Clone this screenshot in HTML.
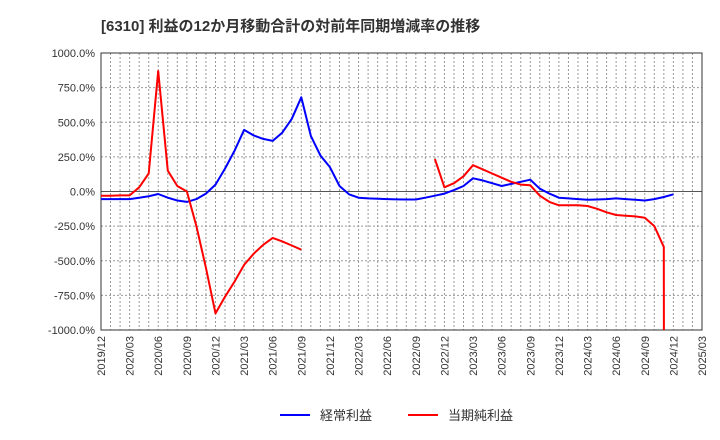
<!DOCTYPE html>
<html><head><meta charset="utf-8"><style>
html,body{margin:0;background:#fff;width:720px;height:440px;overflow:hidden;font-family:"Liberation Sans","Noto Sans CJK JP",sans-serif}
svg{display:block}
svg text{font-family:"Liberation Sans","Noto Sans CJK JP",sans-serif}
</style></head><body>
<svg id="c" width="720" height="440" xmlns="http://www.w3.org/2000/svg">
<text x="101" y="31" font-size="15" font-weight="bold" fill="#333">[6310]  利益の12か月移動合計の対前年同期増減率の推移</text>
<g id="grid"></g><g id="axes"></g>
<clipPath id="clip"><rect x="101" y="53" width="601" height="277"/></clipPath>
<g id="series" clip-path="url(#clip)"></g>
<g>
<line x1="280" y1="415" x2="310" y2="415" stroke="#0000ff" stroke-width="2"/>
<text x="320" y="420" font-size="13" fill="#333">経常利益</text>
<line x1="408" y1="415" x2="438" y2="415" stroke="#ff0000" stroke-width="2"/>
<text x="448" y="420" font-size="13" fill="#333">当期純利益</text>
</g>
</svg>
<script>
const yTicks=[1000,750,500,250,0,-250,-500,-750,-1000];
const yLabels=["1000.0%","750.0%","500.0%","250.0%","0.0%","-250.0%","-500.0%","-750.0%","-1000.0%"];
const xLabels=["2019/12","2020/03","2020/06","2020/09","2020/12","2021/03","2021/06","2021/09","2021/12","2022/03","2022/06","2022/09","2022/12","2023/03","2023/06","2023/09","2023/12","2024/03","2024/06","2024/09","2024/12","2025/03"];
const ordinary=[-55,-55,-55,-55,-45,-35,-18,-45,-65,-75,-55,-15,50,165,295,445,405,380,365,425,525,680,400,260,175,40,-20,-45,-50,-52,-55,-57,-58,-58,-45,-30,-15,10,40,95,80,60,40,55,70,85,20,-15,-45,-50,-55,-60,-58,-55,-50,-55,-60,-65,-55,-40,-20];
const net=[-30,-30,-28,-28,30,130,870,150,40,0,-250,-550,-880,-760,-650,-530,-450,-385,-335,-360,-390,-420,null,null,null,null,null,null,null,null,null,null,null,null,null,235,30,60,110,190,160,130,100,70,50,45,-30,-75,-100,-100,-100,-105,-125,-150,-170,-175,-180,-190,-250,-400,-60000];
const L=101,R=702,T=53,B=330,NM=63;
const sx=i=>L+i*(R-L)/NM, sy=v=>T+(1000-v)*(B-T)/2000;
const ns="http://www.w3.org/2000/svg";
function mk(t,a,p){const e=document.createElementNS(ns,t);for(const k in a)e.setAttribute(k,a[k]);p.appendChild(e);return e;}
const g=document.getElementById('grid'),ax=document.getElementById('axes'),s=document.getElementById('series');
for(let m=1;m<NM;m++){const l=mk('line',{x1:sx(m),x2:sx(m),y1:T,y2:B,stroke:'#999','stroke-dasharray':'2,2','stroke-width':1},g);

}
yTicks.forEach((v,i)=>{if(v!==1000&&v!==-1000){const l=mk('line',{x1:L,x2:R,y1:sy(v),y2:sy(v),stroke:v===0?'#555':'#999','stroke-dasharray':v===0?'':'2,2','stroke-width':1},g);

}
const t=mk('text',{x:95,y:sy(v)+4,'font-size':11,'text-anchor':'end',fill:'#333'},ax);t.textContent=yLabels[i];

});
xLabels.forEach((lb,i)=>{const x=sx(i*3);const t=mk('text',{x:0,y:0,'font-size':11,'text-anchor':'end',fill:'#333',transform:`translate(${x+4},336) rotate(-90)`},ax);t.textContent=lb;

});
const fr=mk('rect',{x:L,y:T,width:R-L,height:B-T,fill:'none',stroke:'#333','stroke-width':1},ax);


function draw(arr,col,name){let d='',pen=false;arr.forEach((v,i)=>{if(v===null){pen=false;return;}d+=(pen?'L':'M')+sx(i).toFixed(1)+','+sy(v).toFixed(1);pen=true;});
const p=mk('path',{d:d,fill:'none',stroke:col,'stroke-width':2,'stroke-linejoin':'round'},s);

}
draw(ordinary,'#0000ff','ordinary-profit-line');
draw(net,'#ff0000','net-profit-line');
</script>
</body></html>
